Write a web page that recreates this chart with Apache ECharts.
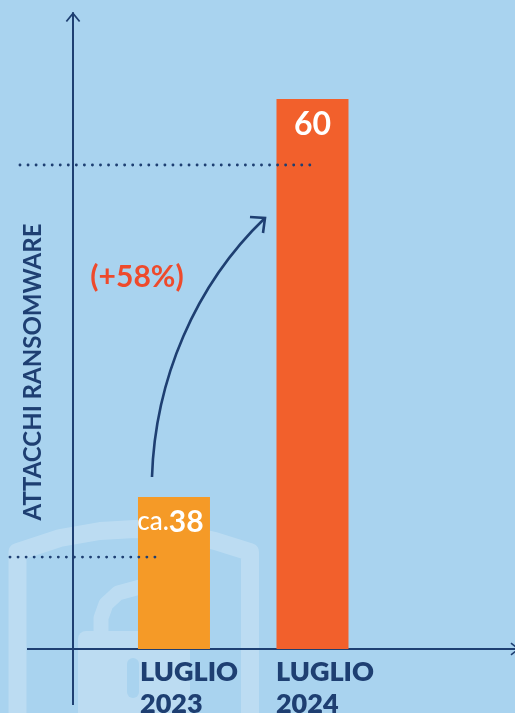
<!DOCTYPE html>
<html>
<head>
<meta charset="utf-8">
<style>html,body{margin:0;padding:0;background:#A9D3EF}#c{width:515px;height:713px}</style>
<script src="https://cdn.jsdelivr.net/npm/echarts@6/dist/echarts.min.js"></script>
</head>
<body>
<div id="c"></div>
<script>
const xPositions = [0, 1];
const barValues = [38, 60];
const barLabels = ['{ca|ca.}{n38|38}', '{n|60}'];
const barColors = ['#F59A27', '#F2602C'];
const tickPositions = [-0.245, 0.736];
const tickLabels = ['LUGLIO\n2023', 'LUGLIO\n2024'];
const refLine2023 = [[-1.184, 34.68], [-0.116, 34.68]];
const refLine2024 = [[-1.112, 56.35], [0.989, 56.35]];
const NAVY = '#1E3F72';
const FONT = 'Lato';

const wm = 'rgba(255,255,255,0.22)';
const chevronUp = 'path://M0 10.4 L8.5 0 L17 10.4 L15.4 11.6 L8.5 3.2 L1.6 11.6 Z';
const arrowStyle = {fill: 'none', stroke: NAVY, lineWidth: 2.6};

const chart = echarts.init(document.getElementById('c'), null, {renderer: 'canvas'});
chart.setOption({
  backgroundColor: '#A9D3EF',
  animation: false,
  grid: [
    {left: 73, right: 0, top: 13, bottom: 64, outerBoundsMode: 'none', containLabel: false},
    {left: 0, right: 0, top: 13, bottom: 64, outerBoundsMode: 'none', containLabel: false}
  ],
  xAxis: [{
    type: 'value', min: -0.729, max: 2.462,
    axisLine: {show: true, onZero: false, lineStyle: {color: NAVY, width: 2},
      symbol: ['none', chevronUp], symbolSize: [17, 9], symbolOffset: [0, 0]},
    axisTick: {show: false}, splitLine: {show: false},
    axisLabel: {
      show: true, customValues: tickPositions, align: 'left', margin: 7,
      formatter: (v) => tickLabels[tickPositions.indexOf(v)],
      color: NAVY, fontFamily: FONT, fontWeight: 800, fontSize: 27, lineHeight: 32,
      verticalAlign: 'top'
    }
  }, {
    gridIndex: 1, type: 'value', min: -1.256, max: 2.462, show: false
  }],
  yAxis: [{
    type: 'value', min: 29.6, max: 64.75,
    axisLine: {show: true, onZero: false, lineStyle: {color: NAVY, width: 2},
      symbol: ['none', chevronUp], symbolSize: [17, 10], symbolOffset: [0, -4]},
    axisTick: {show: false}, axisLabel: {show: false}, splitLine: {show: false}
  }, {
    gridIndex: 1, type: 'value', min: 29.6, max: 64.75, show: false
  }],
  series: [
    {
      type: 'bar', barWidth: 72, z: 3,
      data: xPositions.map((x, i) => ({
        value: [x, barValues[i]],
        itemStyle: {color: barColors[i]},
        label: {formatter: barLabels[i]}
      })),
      label: {
        show: true, position: 'insideTop', distance: 10, color: '#fff',
        fontFamily: FONT,
        rich: {
          ca: {color: '#fff', fontFamily: FONT, fontSize: 26, fontWeight: 500},
          n38: {color: '#fff', fontFamily: FONT, fontSize: 30, fontWeight: 700, padding: [0, 7, 0, 0]},
          n: {color: '#fff', fontFamily: FONT, fontSize: 32, fontWeight: 700}
        }
      }
    },
    ...[refLine2023, refLine2024].map(d => ({
      type: 'line', xAxisIndex: 1, yAxisIndex: 1, data: d, showSymbol: false, silent: true, z: 5,
      lineStyle: {color: NAVY, width: 2.8, type: [0.1, 7.95], cap: 'round'}
    }))
  ],
  graphic: [
    // watermark shield
    {type: 'polyline', z: -10, silent: true,
      shape: {points: [[17.5, 713], [17.5, 552], [60, 538], [100, 531], [135, 529], [175, 532], [215, 541], [250, 552], [250, 713]]},
      style: {fill: 'none', stroke: wm, lineWidth: 18, lineJoin: 'round'}},
    // watermark padlock
    {type: 'polyline', z: -10, silent: true,
      shape: {points: [[101, 631], [101, 618], [106, 604], [118, 593], [140, 587]]},
      style: {fill: 'none', stroke: wm, lineWidth: 15, lineJoin: 'round'}},
    {type: 'rect', z: -10, silent: true, shape: {x: 78, y: 631, width: 112, height: 82, r: [8, 8, 0, 0]}, style: {fill: wm}},
    {type: 'rect', z: -9, silent: true, shape: {x: 127, y: 658, width: 12, height: 40, r: 6}, style: {fill: '#A9D3EF'}},
    // axis extensions past the crossing point
    {type: 'line', z: 4, silent: true, shape: {x1: 27, y1: 649, x2: 73, y2: 649}, style: {stroke: NAVY, lineWidth: 2}},
    {type: 'line', z: 4, silent: true, shape: {x1: 73, y1: 649, x2: 73, y2: 705}, style: {stroke: NAVY, lineWidth: 2}},
    // growth arrow
    {type: 'bezierCurve', z: 6, silent: true, shape: {x1: 152, y1: 477, cpx1: 155, cpy1: 380, cpx2: 195, cpy2: 285, x2: 265, y2: 218}, style: arrowStyle},
    {type: 'polyline', z: 6, silent: true, shape: {points: [[250, 217], [265, 218], [263, 233]]}, style: arrowStyle},
    {type: 'text', z: 6, silent: true, x: 137, y: 277,
      style: {text: '(+58%)', fill: '#EE4A2C', font: '700 30px ' + FONT, align: 'center', verticalAlign: 'middle'}},
    {type: 'text', z: 6, silent: true, x: 33, y: 372, rotation: Math.PI / 2,
      style: {text: 'ATTACCHI RANSOMWARE', fill: NAVY, font: '700 24px ' + FONT, align: 'center', verticalAlign: 'middle'}}
  ]
});
</script>
</body>
</html>
